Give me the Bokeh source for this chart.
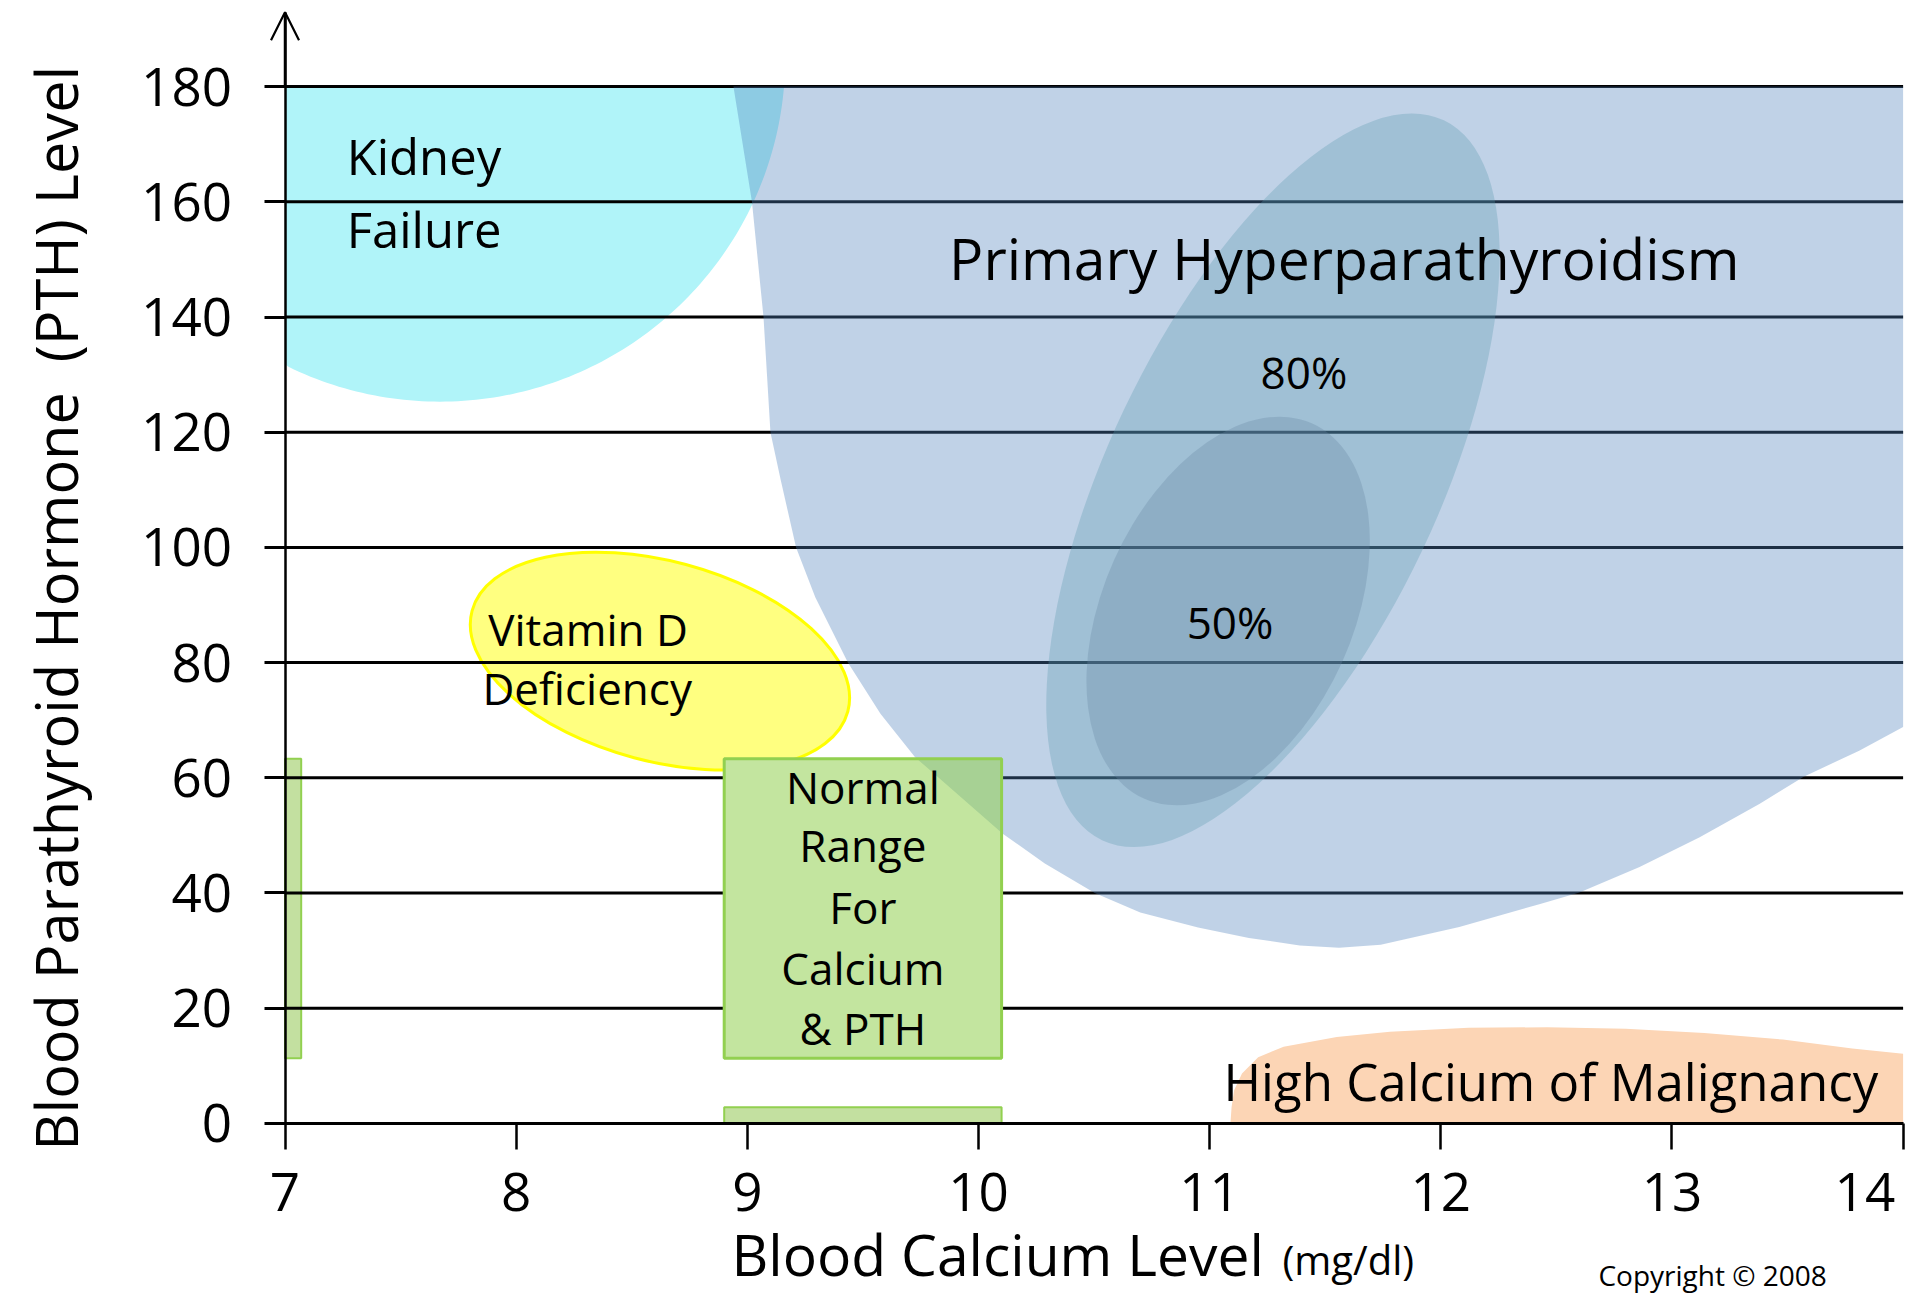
import numpy as np
from bokeh.plotting import figure
from bokeh.models import FixedTicker, Arrow, OpenHead, LinearAxis
from bokeh.core.properties import value
from bokeh.embed import file_html
from bokeh.resources import INLINE

FONT = "Open Sans"

# ---------------- data ----------------
x_ticks = [7, 8, 9, 10, 11, 12, 13, 14]
y_ticks = [0, 20, 40, 60, 80, 100, 120, 140, 160, 180]
x_tick_labels = {14: "14\u2007"}

# Kidney failure (axis-aligned ellipse, clipped to the chart box)
kidney_center = [7.67, 185.0]
kidney_radius = [1.494, 59.7]

# Primary hyperparathyroidism outline
hyper_x = [8.94, 9.02, 9.07, 9.085, 9.10, 9.145, 9.211, 9.294, 9.435, 9.576, 9.725,
           9.791, 10.105, 10.287, 10.503, 10.70, 10.95, 11.17, 11.39, 11.56, 11.74,
           12.08, 12.43, 12.60, 12.86, 13.12, 13.38, 13.57, 13.81, 14.0, 14.0]
hyper_y = [180, 160, 140, 130, 120, 111.6, 100, 91.35, 80, 71.1, 63.6,
           61.3, 50.3, 45.1, 40.0, 36.6, 34.0, 32.2, 30.9, 30.5, 31.0,
           34.1, 38.1, 40.1, 44.5, 49.7, 55.5, 60.2, 64.7, 68.8, 180]

# 80% / 50% cores
core_x = [11.274, 11.080]
core_y = [111.65, 88.95]
core_text = ["80%", "50%"]
core_text_x = [11.408, 11.088]
core_text_y = [130.4, 87.0]

# Vitamin D deficiency
vitd_x = [8.622]
vitd_y = [80.25]

# Normal range
calcium_normal = [8.9, 10.1]
pth_normal = [11.3, 63.3]
normal_text = ["Normal", "Range", "For", "Calcium", "& PTH"]
normal_text_y = [58.4, 48.3, 37.5, 27.0, 16.6]

# High calcium of malignancy
malig_x = [11.09, 11.095, 11.106, 11.14, 11.21, 11.32, 11.55, 11.78, 12.12, 12.46,
           12.80, 13.14, 13.48, 13.78, 14.0, 14.0]
malig_y = [0, 2.85, 5.75, 8.65, 11.5, 13.3, 15.0, 15.9, 16.6, 16.7,
           16.45, 15.7, 14.55, 13.0, 12.1, 0]

# region names (left aligned, vertical middle)
region_text = ["Kidney", "Failure", "Primary Hyperparathyroidism",
               "Vitamin D", "Deficiency", "High Calcium of Malignancy"]
region_text_x = [7.267, 7.267, 9.873, 7.879, 7.854, 11.06]
region_text_y = [167.9, 155.3, 150.2, 85.9, 75.6, 7.3]
region_text_size = ["49px", "49px", "57px", "44px", "44px", "51px"]

# axis titles
y_title = "Blood Parathyroid Hormone\u00a0 (PTH) Level"
x_title = "Blood Calcium Level"
x_unit = "(mg/dl)"
copyright_text = "Copyright \u00a9 2008"

# ---------------- figure ----------------
Y_TOP = 192.9            # tip of the axis arrow
X_RANGE = (5.7692, 14.0969)
Y_RANGE = (-29.705, 194.948)

p = figure(width=1925, height=1294, x_range=X_RANGE, y_range=Y_RANGE,
           output_backend="svg", toolbar_location=None,
           x_axis_location=None, y_axis_location=None,
           min_border_left=0, min_border_right=0, min_border_top=0, min_border_bottom=0)
p.outline_line_color = None
p.xgrid.visible = False
p.ygrid.visible = False
p.background_fill_color = "white"
p.border_fill_color = "white"

xaxis = LinearAxis(fixed_location=0, bounds=(x_ticks[0], x_ticks[-1]),
                   ticker=FixedTicker(ticks=x_ticks))
xaxis.major_label_overrides = x_tick_labels
xaxis.axis_line_width = 3
xaxis.axis_line_color = "black"
xaxis.major_tick_in = 0
xaxis.major_tick_out = 26
xaxis.major_tick_line_width = 2.5
xaxis.major_tick_line_color = "black"
xaxis.minor_tick_line_color = None
xaxis.major_label_text_font = FONT
xaxis.major_label_text_font_size = "53px"
xaxis.major_label_text_color = "black"
xaxis.major_label_standoff = 5
p.add_layout(xaxis, "below")

yaxis = LinearAxis(fixed_location=7, bounds=(0, Y_TOP),
                   ticker=FixedTicker(ticks=y_ticks))
yaxis.axis_line_width = 2.5
yaxis.axis_line_color = "black"
yaxis.major_tick_in = 0
yaxis.major_tick_out = 21
yaxis.major_tick_line_width = 3
yaxis.major_tick_line_color = "black"
yaxis.minor_tick_line_color = None
yaxis.major_label_text_font = FONT
yaxis.major_label_text_font_size = "53px"
yaxis.major_label_text_color = "black"
yaxis.major_label_standoff = 32
p.add_layout(yaxis, "left")

# ---------------- regions below the lines ----------------
t = np.linspace(0, 2 * np.pi, 361)
kx = np.maximum(kidney_center[0] + kidney_radius[0] * np.cos(t), x_ticks[0])
ky = np.minimum(kidney_center[1] + kidney_radius[1] * np.sin(t), y_ticks[-1])
p.patch(kx, ky, fill_color="#B0F4F9", line_color=None)

p.ellipse(x=vitd_x, y=vitd_y, width=389, height=200, angle=-15, angle_units="deg",
          width_units="screen", height_units="screen",
          fill_color="#FFFF80", line_color="#FFFF00", line_width=3)

p.patch(malig_x, malig_y, fill_color="#FCD5B5", line_color=None)

# axis range markers
p.quad(left=[calcium_normal[0]], right=[calcium_normal[1]], bottom=[0], top=[2.8],
       fill_color="#C3E0A0", line_color="#92D050", line_width=2)
p.quad(left=[7.0], right=[7.07], bottom=[pth_normal[0]], top=[pth_normal[1]],
       fill_color="#C3E0A0", line_color="#92D050", line_width=2)

# horizontal lines
n = len(y_ticks)
p.segment(x0=[x_ticks[0]] * n, x1=[x_ticks[-1]] * n, y0=y_ticks, y1=y_ticks,
          line_color="black", line_width=3)

# white base of the normal box (hides lines)
p.quad(left=[calcium_normal[0]], right=[calcium_normal[1]],
       bottom=[pth_normal[0]], top=[pth_normal[1]], fill_color="white", line_color=None)

# ---------------- translucent regions above the lines ----------------
p.patch(hyper_x, hyper_y, fill_color="#4F81BD", fill_alpha=0.36, line_color=None)

p.ellipse(x=core_x[:1], y=core_y[:1], width=797, height=330, angle=64.6, angle_units="deg",
          width_units="screen", height_units="screen",
          fill_color="#5597AC", fill_alpha=0.3, line_color=None)
p.ellipse(x=core_x[1:], y=core_y[1:], width=411, height=250, angle=65.8, angle_units="deg",
          width_units="screen", height_units="screen",
          fill_color="#6786A1", fill_alpha=0.3, line_color=None)

p.quad(left=[calcium_normal[0]], right=[calcium_normal[1]],
       bottom=[pth_normal[0]], top=[pth_normal[1]],
       fill_color="#92D050", fill_alpha=0.55, line_color="#92D050", line_width=3)

# ---------------- texts ----------------
for txt, tx, ty, ts in zip(region_text, region_text_x, region_text_y, region_text_size):
    p.text(x=[tx], y=[ty], text=[txt], text_font=value(FONT), text_font_size=ts,
           text_align="left", text_baseline="middle", text_color="black")

p.text(x=core_text_x, y=core_text_y, text=core_text, text_font=value(FONT),
       text_font_size="44px", text_align="center", text_baseline="middle",
       text_color="black")

mid_ca = (calcium_normal[0] + calcium_normal[1]) / 2
p.text(x=[mid_ca] * len(normal_text), y=normal_text_y, text=normal_text,
       text_font=value(FONT), text_font_size="44px", text_align="center",
       text_baseline="middle", text_color="black")

# axis titles
p.text(x=[6.006], y=[89.43], text=[y_title], angle=90, angle_units="deg",
       text_font=value(FONT), text_font_size="57.7px", text_align="center",
       text_baseline="middle", text_color="black")
p.text(x=[8.9316], y=[-22.7], text=[x_title], text_font=value(FONT),
       text_font_size="57px", text_align="left", text_baseline="middle",
       text_color="black")
p.text(x=[11.315], y=[-23.6], text=[x_unit], text_font=value(FONT),
       text_font_size="40px", text_align="left", text_baseline="middle",
       text_color="black")
p.text(x=[12.682], y=[-26.4], text=[copyright_text], text_font=value(FONT),
       text_font_size="28px", text_align="left", text_baseline="middle",
       text_color="black")

# axis arrow
p.add_layout(Arrow(end=OpenHead(size=28, line_width=2.2, line_color="black"),
                   x_start=7, y_start=y_ticks[-1], x_end=7, y_end=Y_TOP,
                   line_width=2.5, line_color="black"))

open("out.html", "w").write(file_html(p, INLINE))
